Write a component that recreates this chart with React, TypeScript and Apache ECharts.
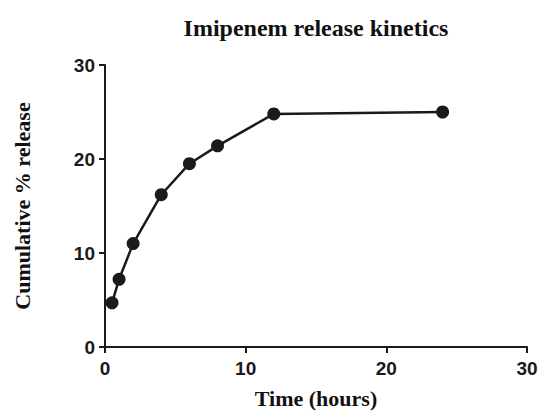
import React, { useEffect, useRef } from "react";
import * as echarts from "echarts";

const timeHours = [0.5, 1, 2, 4, 6, 8, 12, 24];
const releasePct = [4.7, 7.2, 11.0, 16.2, 19.5, 21.4, 24.8, 25.0];
const titleText = "Imipenem release kinetics";
const xName = "Time (hours)";
const yName = "Cumulative % release";

export default function App() {
  const ref = useRef<HTMLDivElement>(null);
  useEffect(() => {
    if (!ref.current) return;
    const chart = echarts.init(ref.current, undefined, { renderer: "svg" });
    const axisCommon = {
      axisLine: { show: true, lineStyle: { color: "#1a1a1a", width: 2 } },
      axisTick: { show: true, inside: false, length: 6, lineStyle: { color: "#1a1a1a", width: 2 } },
      axisLabel: { color: "#1a1a1a", fontFamily: "Liberation Sans, Arial", fontWeight: "bold", fontSize: 19 },
      splitLine: { show: false },
      nameTextStyle: { color: "#111111", fontFamily: "Liberation Serif, Times New Roman", fontWeight: "bold", fontSize: 22 },
    };
    chart.setOption({
      animation: false,
      backgroundColor: "#ffffff",
      title: {
        text: titleText,
        left: 311,
        top: 11,
        textAlign: "center",
        textStyle: { color: "#111111", fontFamily: "Liberation Serif, Times New Roman", fontWeight: "bold", fontSize: 24 },
      },
      grid: { left: 105, right: 16, top: 65, bottom: 68, containLabel: false },
      xAxis: {
        type: "value",
        min: 0,
        max: 30,
        interval: 10,
        name: xName,
        nameLocation: "middle",
        nameGap: 40,
        ...axisCommon,
        axisLabel: { ...axisCommon.axisLabel, margin: 12 },
      },
      yAxis: {
        type: "value",
        min: 0,
        max: 30,
        interval: 10,
        name: yName,
        nameLocation: "middle",
        nameGap: 72,
        ...axisCommon,
        axisLabel: { ...axisCommon.axisLabel, margin: 10 },
      },
      series: [
        {
          type: "line",
          data: timeHours.map((t, i) => [t, releasePct[i]]),
          symbol: "circle",
          symbolSize: 13,
          lineStyle: { color: "#1a1a1a", width: 2.5 },
          itemStyle: { color: "#1a1a1a" },
        },
      ],
    });
    return () => chart.dispose();
  }, []);
  return (
    <div
      ref={ref}
      style={{ position: "absolute", left: 0, top: 0, width: 543, height: 415 }}
    />
  );
}
